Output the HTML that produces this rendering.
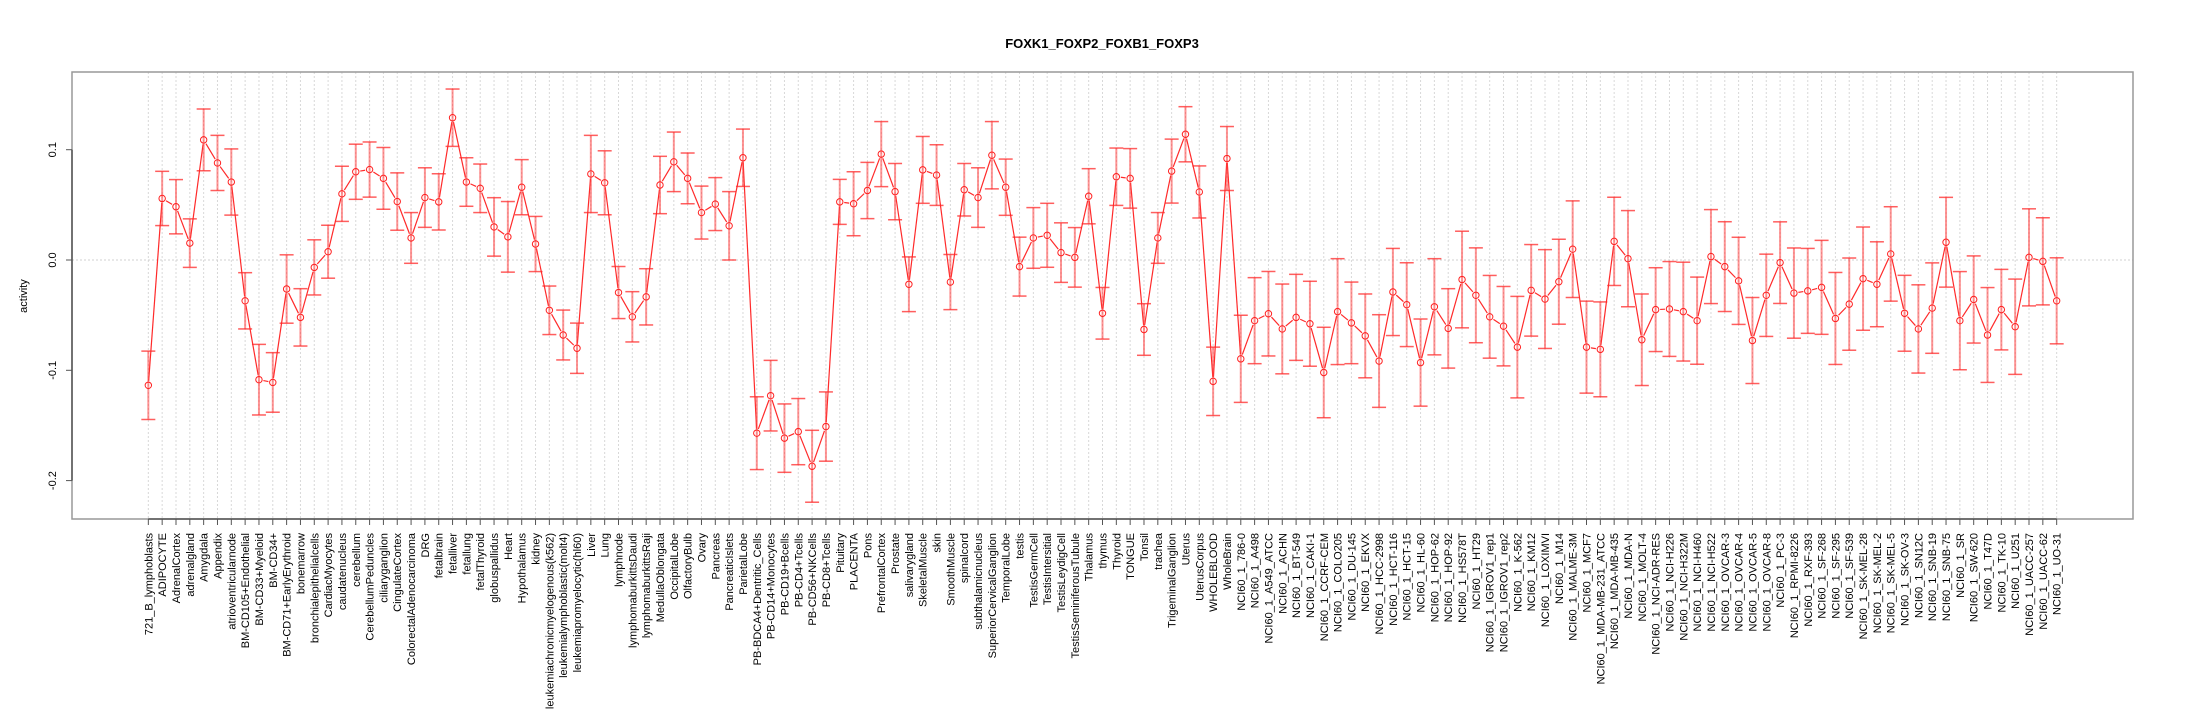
<!DOCTYPE html>
<html>
<head>
<meta charset="utf-8">
<style>
html,body{margin:0;padding:0;background:#fff;}
svg{display:block;font-family:"Liberation Sans",Arial,sans-serif;}
</style>
</head>
<body>
<svg id="chart" width="2205" height="720" viewBox="0 0 2205 720" xmlns="http://www.w3.org/2000/svg">
<rect x="0" y="0" width="2205" height="720" fill="#fff"/>
<text x="1102" y="48" text-anchor="middle" font-size="13" font-weight="bold">FOXK1_FOXP2_FOXB1_FOXP3</text>
<text transform="translate(27,296) rotate(-90)" text-anchor="middle" font-size="11">activity</text>
<g id="grid"></g>
<g id="marks"></g>
<g id="axes"></g>
</svg>
<script>
const categories = ["721_B_lymphoblasts","ADIPOCYTE","AdrenalCortex","adrenalgland","Amygdala","Appendix","atrioventricularnode","BM-CD105+Endothelial","BM-CD33+Myeloid","BM-CD34+","BM-CD71+EarlyErythroid","bonemarrow","bronchialepithelialcells","CardiacMyocytes","caudatenucleus","cerebellum","CerebellumPeduncles","ciliaryganglion","CingulateCortex","ColorectalAdenocarcinoma","DRG","fetalbrain","fetalliver","fetallung","fetalThyroid","globuspallidus","Heart","Hypothalamus","kidney","leukemiachronicmyelogenous(k562)","leukemialymphoblastic(molt4)","leukemiapromyelocytic(hl60)","Liver","Lung","lymphnode","lymphomaburkittsDaudi","lymphomaburkittsRaji","MedullaOblongata","OccipitalLobe","OlfactoryBulb","Ovary","Pancreas","PancreaticIslets","ParietalLobe","PB-BDCA4+Dentritic_Cells","PB-CD14+Monocytes","PB-CD19+Bcells","PB-CD4+Tcells","PB-CD56+NKCells","PB-CD8+Tcells","Pituitary","PLACENTA","Pons","PrefrontalCortex","Prostate","salivarygland","SkeletalMuscle","skin","SmoothMuscle","spinalcord","subthalamicnucleus","SuperiorCervicalGanglion","TemporalLobe","testis","TestisGermCell","TestisIntersitial","TestisLeydigCell","TestisSeminiferousTubule","Thalamus","thymus","Thyroid","TONGUE","Tonsil","trachea","TrigeminalGanglion","Uterus","UterusCorpus","WHOLEBLOOD","WholeBrain","NCI60_1_786-0","NCI60_1_A498","NCI60_1_A549_ATCC","NCI60_1_ACHN","NCI60_1_BT-549","NCI60_1_CAKI-1","NCI60_1_CCRF-CEM","NCI60_1_COLO205","NCI60_1_DU-145","NCI60_1_EKVX","NCI60_1_HCC-2998","NCI60_1_HCT-116","NCI60_1_HCT-15","NCI60_1_HL-60","NCI60_1_HOP-62","NCI60_1_HOP-92","NCI60_1_HS578T","NCI60_1_HT29","NCI60_1_IGROV1_rep1","NCI60_1_IGROV1_rep2","NCI60_1_K-562","NCI60_1_KM12","NCI60_1_LOXIMVI","NCI60_1_M14","NCI60_1_MALME-3M","NCI60_1_MCF7","NCI60_1_MDA-MB-231_ATCC","NCI60_1_MDA-MB-435","NCI60_1_MDA-N","NCI60_1_MOLT-4","NCI60_1_NCI-ADR-RES","NCI60_1_NCI-H226","NCI60_1_NCI-H322M","NCI60_1_NCI-H460","NCI60_1_NCI-H522","NCI60_1_OVCAR-3","NCI60_1_OVCAR-4","NCI60_1_OVCAR-5","NCI60_1_OVCAR-8","NCI60_1_PC-3","NCI60_1_RPMI-8226","NCI60_1_RXF-393","NCI60_1_SF-268","NCI60_1_SF-295","NCI60_1_SF-539","NCI60_1_SK-MEL-28","NCI60_1_SK-MEL-2","NCI60_1_SK-MEL-5","NCI60_1_SK-OV-3","NCI60_1_SN12C","NCI60_1_SNB-19","NCI60_1_SNB-75","NCI60_1_SR","NCI60_1_SW-620","NCI60_1_T47D","NCI60_1_TK-10","NCI60_1_U251","NCI60_1_UACC-257","NCI60_1_UACC-62","NCI60_1_UO-31"];
const meanValues = [-0.1136,0.0558,0.0483,0.0153,0.1089,0.088,0.0707,-0.037,-0.1085,-0.111,-0.0263,-0.052,-0.0067,0.0075,0.060,0.080,0.082,0.074,0.053,0.020,0.0566,0.0527,0.129,0.0707,0.065,0.030,0.021,0.066,0.0145,-0.0456,-0.068,-0.080,0.078,0.070,-0.0295,-0.0515,-0.0334,0.068,0.089,0.074,0.043,0.0507,0.031,0.0927,-0.157,-0.123,-0.1615,-0.1556,-0.187,-0.151,0.0527,0.051,0.063,0.096,0.062,-0.022,0.0817,0.077,-0.020,0.0637,0.0566,0.095,0.066,-0.006,0.020,0.0224,0.0067,0.0024,0.0578,-0.0483,0.0755,0.074,-0.063,0.020,0.0806,0.114,0.0617,-0.110,0.092,-0.0896,-0.055,-0.0487,-0.0625,-0.052,-0.0578,-0.102,-0.0468,-0.057,-0.0688,-0.0916,-0.029,-0.0405,-0.093,-0.0424,-0.062,-0.0177,-0.032,-0.0515,-0.060,-0.079,-0.0275,-0.0354,-0.0197,0.0098,-0.079,-0.081,0.0169,0.0012,-0.0723,-0.045,-0.0444,-0.0468,-0.055,0.0031,-0.006,-0.0189,-0.073,-0.032,-0.0024,-0.030,-0.028,-0.0248,-0.053,-0.040,-0.0169,-0.022,0.0055,-0.0483,-0.0625,-0.0436,0.0161,-0.055,-0.0358,-0.068,-0.045,-0.0605,0.0024,-0.0012,-0.037];
const errorValues = [0.031,0.0246,0.0246,0.022,0.028,0.025,0.030,0.0255,0.032,0.027,0.031,0.026,0.025,0.024,0.025,0.025,0.025,0.028,0.026,0.023,0.027,0.0255,0.026,0.022,0.022,0.0265,0.032,0.025,0.025,0.022,0.0226,0.0228,0.035,0.029,0.0236,0.0228,0.0255,0.026,0.027,0.023,0.024,0.024,0.031,0.026,0.033,0.032,0.031,0.030,0.0326,0.0314,0.0204,0.029,0.0255,0.0295,0.0255,0.0248,0.0303,0.0275,0.025,0.0238,0.027,0.0305,0.0255,0.0267,0.0275,0.029,0.027,0.027,0.025,0.0234,0.026,0.027,0.0234,0.023,0.029,0.025,0.0236,0.031,0.029,0.0395,0.039,0.0383,0.0407,0.039,0.0385,0.041,0.048,0.037,0.038,0.042,0.0395,0.038,0.0395,0.0436,0.036,0.0438,0.043,0.0375,0.036,0.046,0.0415,0.0448,0.0385,0.0438,0.0417,0.043,0.040,0.0436,0.0415,0.038,0.043,0.0448,0.0395,0.0426,0.0407,0.0395,0.039,0.0373,0.037,0.0409,0.0385,0.0426,0.0417,0.0418,0.0468,0.0385,0.0428,0.0344,0.040,0.041,0.0407,0.0445,0.0395,0.043,0.0365,0.0432,0.044,0.0395,0.039];
const yTickValues = [-0.2,-0.1,0.0,0.1];
const yTickLabels = ["-0.2","-0.1","0.0","0.1"];

const NS = "http://www.w3.org/2000/svg";
const plotL = 72, plotR = 2133, plotT = 72, plotB = 519;
const n = categories.length;
const xSpan = (n - 1) * 1.08;
function xScale(i) { return plotL + (i + (n - 1) * 0.04) / xSpan * (plotR - plotL); }
function yScale(v) { return 260 - v * 1103; }

function mk(tag, attrs, parent) {
  const el = document.createElementNS(NS, tag);
  for (const k in attrs) el.setAttribute(k, attrs[k]);
  parent.appendChild(el);
  return el;
}
const grid = document.getElementById('grid');
const marks = document.getElementById('marks');
const axes = document.getElementById('axes');

// vertical grid lines
categories.forEach((c, i) => {
  const x = xScale(i);
  const g = mk('line', {x1: x, x2: x, y1: plotT, y2: plotB, stroke: '#d8d8d8', 'stroke-width': 1, 'stroke-dasharray': '2,2'}, grid);
  
  
});
// zero line
const zl = mk('line', {x1: plotL, x2: plotR, y1: yScale(0), y2: yScale(0), stroke: '#d0d0d0', 'stroke-width': 1, 'stroke-dasharray': '2,2'}, grid);



// connecting line segments with gaps around points
for (let i = 0; i < n - 1; i++) {
  const x1 = xScale(i), y1 = yScale(meanValues[i]);
  const x2 = xScale(i + 1), y2 = yScale(meanValues[i + 1]);
  const dx = x2 - x1, dy = y2 - y1, len = Math.hypot(dx, dy);
  const gap = 4.5;
  if (len <= 2 * gap) continue;
  const ux = dx / len, uy = dy / len;
  const seg = mk('line', {x1: x1 + ux * gap, y1: y1 + uy * gap, x2: x2 - ux * gap, y2: y2 - uy * gap, stroke: '#ff2a2a', 'stroke-width': 1.2}, marks);
  
  
}
// error bars and points
categories.forEach((c, i) => {
  const x = xScale(i);
  const yt = yScale(meanValues[i] + errorValues[i]);
  const yb = yScale(meanValues[i] - errorValues[i]);
  const g = mk('g', {}, marks);
  
  
  mk('line', {x1: x, x2: x, y1: yt, y2: yb, stroke: 'rgba(255,60,60,0.55)', 'stroke-width': 2}, g);
  mk('line', {x1: x - 7, x2: x + 7, y1: yt, y2: yt, stroke: 'rgba(255,40,40,0.75)', 'stroke-width': 1.5}, g);
  mk('line', {x1: x - 7, x2: x + 7, y1: yb, y2: yb, stroke: 'rgba(255,40,40,0.75)', 'stroke-width': 1.5}, g);
  const p = mk('circle', {cx: x, cy: yScale(meanValues[i]), r: 3.2, fill: 'none', stroke: '#ff2020', 'stroke-width': 1}, marks);
  
  
});

// plot box
const box = mk('rect', {x: plotL, y: plotT, width: plotR - plotL, height: plotB - plotT, fill: 'none', stroke: '#999', 'stroke-width': 1.5}, axes);


// y axis
const ya = mk('line', {x1: plotL, x2: plotL, y1: yScale(yTickValues[0]), y2: yScale(yTickValues[yTickValues.length - 1]), stroke: '#555', 'stroke-width': 1.5}, axes);


yTickValues.forEach((v, k) => {
  const y = yScale(v);
  const t = mk('line', {x1: plotL - 6, x2: plotL, y1: y, y2: y, stroke: '#555', 'stroke-width': 1}, axes);
  
  
  const tl = mk('text', {transform: 'translate(56,' + y + ') rotate(-90)', 'text-anchor': 'middle', 'font-size': 11}, axes);
  tl.textContent = yTickLabels[k];
  
  
});
// x axis
const xa = mk('line', {x1: xScale(0), x2: xScale(n - 1), y1: plotB, y2: plotB, stroke: '#555', 'stroke-width': 1.5}, axes);


categories.forEach((c, i) => {
  const x = xScale(i);
  const t = mk('line', {x1: x, x2: x, y1: plotB, y2: plotB + 6, stroke: '#555', 'stroke-width': 1}, axes);
  
  
  const tl = mk('text', {transform: 'translate(' + (x + 4) + ',533) rotate(-90)', 'text-anchor': 'end', 'font-size': 11}, axes);
  tl.textContent = c;
  
  
});
</script>
</body>
</html>
